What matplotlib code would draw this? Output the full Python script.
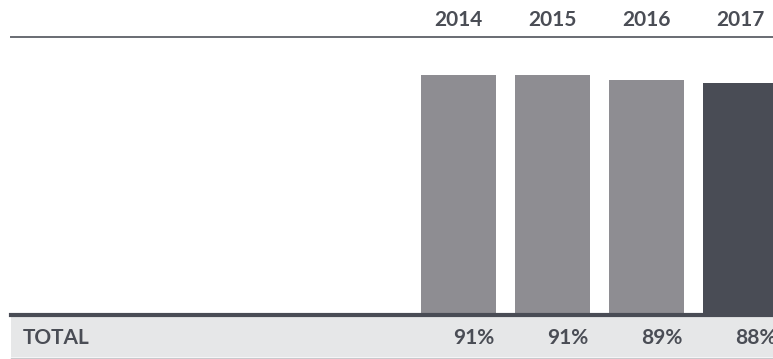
import matplotlib.pyplot as plt

years = ['2014', '2015', '2016', '2017']
totals = [91, 91, 89, 88]
row_label = 'TOTAL'

bar_grey = '#8e8d92'
bar_dark = '#494c55'
text_col = '#4a4d55'

plt.rcParams['font.family'] = ['Lato', 'DejaVu Sans']

W, H = 773, 359
fig = plt.figure(figsize=(W / 100, H / 100), dpi=100)

# axes: left at x=11, right edge of figure; y=0 at row 313, 2.616 px per percent
px = 2.616
base = 313
ax = fig.add_axes([11 / W, (H - base) / H, (W - 11) / W, 100 * px / H])
ax.set_xlim(-4.76, 3.346)
ax.set_ylim(0, 100)
ax.axis('off')

pos = list(range(len(years)))
colors = [bar_grey] * (len(years) - 1) + [bar_dark]
ax.bar(pos, totals, width=75 / 94, color=colors, zorder=2)

def y_of(row):
    return (base - row) / px

# header rule and year labels
ax.axhline(y_of(36.5), color='#686b72', lw=1.4, clip_on=False)
for i, yr in enumerate(years):
    ax.text(i, y_of(20), yr, ha='center', va='center', fontsize=15,
            fontweight='bold', color=text_col, clip_on=False)

# total row: dark rule, grey band, light bottom rule
band = ax.axhspan(y_of(357), y_of(317), color='#e6e7e8', lw=0, zorder=1)
band.set_clip_on(False)
ax.axhline(y_of(315.3), color=bar_dark, lw=3, clip_on=False, zorder=3)
ax.axhline(y_of(357.5), color='#c8c9cc', lw=1, clip_on=False, zorder=3)

ax.text(-4.76 + 12 / 94, y_of(337.5), row_label, ha='left', va='center',
        fontsize=15, fontweight='bold', color=text_col, clip_on=False)
half = 75 / 94 / 2
for i, v in enumerate(totals):
    ax.text(i + half - 1.5 / 94, y_of(337.5), f'{v}%', ha='right', va='center',
            fontsize=15, fontweight='bold', color=text_col, clip_on=False)

fig.savefig('out.png', dpi=100)
